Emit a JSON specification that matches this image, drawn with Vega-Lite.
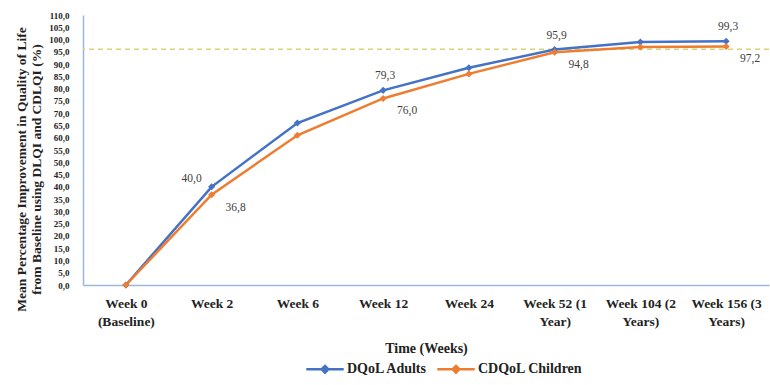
{
  "$schema": "https://vega.github.io/schema/vega-lite/v6.json",
  "width": 686,
  "height": 270,
  "autosize": {"type": "none"},
  "padding": {"left": 83, "top": 15, "right": 1, "bottom": 100},
  "background": "white",
  "config": {
    "locale": {"number": {"decimal": ",", "thousands": ".", "grouping": [3], "currency": ["", " €"]}},
    "view": {"stroke": null},
    "font": "Liberation Serif",
    "axisY": {"labelOverlap": false}
  },
  "data": {
    "values": [
      {"week": "Week 0 (Baseline)", "series": "DQoL Adults", "value": 0},
      {"week": "Week 2", "series": "DQoL Adults", "value": 40.0},
      {"week": "Week 6", "series": "DQoL Adults", "value": 66.0},
      {"week": "Week 12", "series": "DQoL Adults", "value": 79.3},
      {"week": "Week 24", "series": "DQoL Adults", "value": 88.5},
      {"week": "Week 52 (1 Year)", "series": "DQoL Adults", "value": 95.9},
      {"week": "Week 104 (2 Years)", "series": "DQoL Adults", "value": 99.0},
      {"week": "Week 156 (3 Years)", "series": "DQoL Adults", "value": 99.3},
      {"week": "Week 0 (Baseline)", "series": "CDQoL Children", "value": 0},
      {"week": "Week 2", "series": "CDQoL Children", "value": 36.8},
      {"week": "Week 6", "series": "CDQoL Children", "value": 61.0},
      {"week": "Week 12", "series": "CDQoL Children", "value": 76.0},
      {"week": "Week 24", "series": "CDQoL Children", "value": 86.0},
      {"week": "Week 52 (1 Year)", "series": "CDQoL Children", "value": 94.8},
      {"week": "Week 104 (2 Years)", "series": "CDQoL Children", "value": 97.0},
      {"week": "Week 156 (3 Years)", "series": "CDQoL Children", "value": 97.2}
    ]
  },
  "encoding": {
    "y": {
      "field": "value",
      "type": "quantitative",
      "scale": {"domain": [0, 110], "nice": false},
      "axis": {
        "title": ["Mean Percentage Improvement in Quality of Life", "from Baseline using DLQI and CDLQI (%)"],
        "titleFont": "Liberation Serif",
        "titleFontSize": 13.5,
        "titleFontWeight": "bold",
        "titleColor": "#222222",
        "titleLineHeight": 15,
        "titleX": -55,
        "titleY": 154,
        "values": [0, 5, 10, 15, 20, 25, 30, 35, 40, 45, 50, 55, 60, 65, 70, 75, 80, 85, 90, 95, 100, 105, 110],
        "tickCount": 23,
        "format": ".1f",
        "labelFont": "Liberation Serif",
        "labelFontSize": 9,
        "labelFontWeight": "bold",
        "labelColor": "#222222",
        "labelPadding": 14,
        "labelOverlap": false,
        "ticks": false,
        "grid": false,
        "domainColor": "#9db8d6",
        "domainWidth": 1.5
      }
    }
  },
  "layer": [
    {
      "transform": [{"filter": {"field": "series", "equal": "DQoL Adults"}}, {"filter": {"field": "week", "equal": "Week 0 (Baseline)"}}],
      "mark": {"type": "rule", "stroke": "#d8d27a", "strokeDash": [5, 4], "strokeWidth": 1.5},
      "encoding": {"y": {"datum": 96, "type": "quantitative"}}
    },
    {
      "mark": {"type": "line", "strokeWidth": 2.5, "point": {"shape": "diamond", "size": 50, "filled": true}},
      "encoding": {
        "x": {
          "field": "week",
          "type": "ordinal",
          "scale": {"type": "point", "padding": 0.5, "domain": ["Week 0 (Baseline)", "Week 2", "Week 6", "Week 12", "Week 24", "Week 52 (1 Year)", "Week 104 (2 Years)", "Week 156 (3 Years)"]},
          "axis": {
            "title": "Time (Weeks)",
            "titleFont": "Liberation Serif",
            "titleFontSize": 14,
            "titleFontWeight": "bold",
            "titleColor": "#222222",
            "titleY": 63,
            "titleBaseline": "middle",
            "labelExpr": "datum.value == 'Week 0 (Baseline)' ? ['Week 0', '(Baseline)'] : datum.value == 'Week 52 (1 Year)' ? ['Week 52 (1', 'Year)'] : datum.value == 'Week 104 (2 Years)' ? ['Week 104 (2', 'Years)'] : datum.value == 'Week 156 (3 Years)' ? ['Week 156 (3', 'Years)'] : datum.value",
            "labelAngle": 0,
            "labelFont": "Liberation Serif",
            "labelFontSize": 13.5,
            "labelFontWeight": "bold",
            "labelColor": "#222222",
            "labelLineHeight": 18,
            "labelPadding": 11,
            "labelBaseline": "top",
            "labelOverlap": false,
            "ticks": false,
            "domainColor": "#9db8d6",
            "domainWidth": 1.5
          }
        },
        "color": {
          "field": "series",
          "type": "nominal",
          "scale": {"domain": ["DQoL Adults", "CDQoL Children"], "range": ["#4472c4", "#ed7d31"]},
          "legend": {
            "orient": "none",
            "legendX": 222,
            "legendY": 334,
            "direction": "horizontal",
            "title": null,
            "symbolType": "M-1,0H1M0,-0.18L0.18,0L0,0.18L-0.18,0Z",
            "symbolSize": 1400,
            "symbolStrokeWidth": 2.5,
            "labelFont": "Liberation Serif",
            "labelFontSize": 14,
            "labelFontWeight": "bold",
            "labelColor": "#222222",
            "labelOffset": 2,
            "columnPadding": 4,
            "encode": {"symbols": {"update": {"fill": {"scale": "color", "field": "value"}}}}
          }
        }
      }
    },
    {
      "transform": [{"filter": {"field": "series", "equal": "DQoL Adults"}}, {"filter": {"field": "week", "equal": "Week 2"}}],
      "mark": {"type": "text", "font": "Liberation Serif", "fontSize": 11.5, "fill": "#404040", "dx": -20, "dy": -8},
      "encoding": {
        "x": {"field": "week", "type": "ordinal"},
        "text": {"field": "value", "type": "quantitative", "format": ".1f"}
      }
    },
    {
      "transform": [{"filter": {"field": "series", "equal": "DQoL Adults"}}, {"filter": {"field": "week", "oneOf": ["Week 12", "Week 52 (1 Year)", "Week 156 (3 Years)"]}}],
      "mark": {"type": "text", "font": "Liberation Serif", "fontSize": 11.5, "fill": "#404040", "dx": 2, "dy": -14},
      "encoding": {
        "x": {"field": "week", "type": "ordinal"},
        "text": {"field": "value", "type": "quantitative", "format": ".1f"}
      }
    },
    {
      "transform": [{"filter": {"field": "series", "equal": "CDQoL Children"}}, {"filter": {"field": "week", "oneOf": ["Week 2", "Week 12", "Week 52 (1 Year)", "Week 156 (3 Years)"]}}],
      "mark": {"type": "text", "font": "Liberation Serif", "fontSize": 11.5, "fill": "#404040", "dx": 24, "dy": 13},
      "encoding": {
        "x": {"field": "week", "type": "ordinal"},
        "text": {"field": "value", "type": "quantitative", "format": ".1f"}
      }
    }
  ]
}
